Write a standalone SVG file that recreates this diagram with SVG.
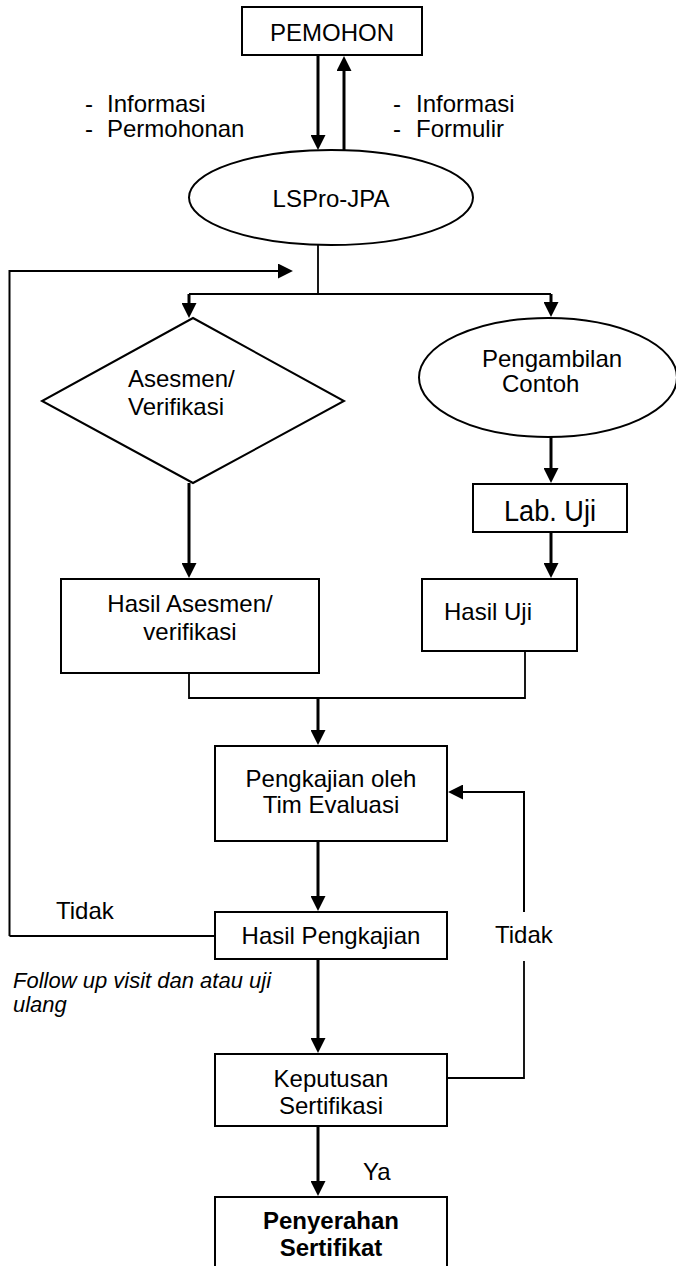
<svg xmlns="http://www.w3.org/2000/svg" width="676" height="1266" viewBox="0 0 676 1266">
<style>
  .box{fill:#fff;stroke:#000;stroke-width:2}
  .t{font-family:"Liberation Sans",Arial,sans-serif;font-size:24px;fill:#000}
  .c{text-anchor:middle}
  .b{font-weight:bold}
  .i{font-style:italic;font-size:22px}
  .arr{fill:none;stroke:#000;stroke-width:3;marker-end:url(#ah)}
  .ln{fill:none;stroke:#000;stroke-width:1.8}
  .ln2{fill:none;stroke:#000;stroke-width:2;marker-end:url(#ah)}
</style>
<defs>
  <marker id="ah" viewBox="0 0 10 10" markerUnits="userSpaceOnUse" markerWidth="15" markerHeight="15" refX="6.7" refY="5" orient="auto">
    <path d="M0,0 L10,5 L0,10 z" fill="#000"/>
  </marker>
</defs>
<rect width="676" height="1266" fill="#fff"/>

<g id="connectors">
  <line class="arr" x1="318" y1="55" x2="318" y2="145"/>
  <line class="arr" x1="344" y1="152" x2="344" y2="61"/>
  <path class="ln" d="M318 245 V294 M189 294 H551"/>
  <line class="arr" x1="189" y1="294" x2="189" y2="313"/>
  <line class="arr" x1="551" y1="294" x2="551" y2="312"/>
  <path class="ln2" d="M9.5 936 V271 H288"/>
  <line class="ln" x1="9.5" y1="936" x2="215" y2="936"/>
  <line class="arr" x1="189" y1="483" x2="189" y2="573"/>
  <line class="arr" x1="551" y1="437" x2="551" y2="478"/>
  <line class="arr" x1="551" y1="532" x2="551" y2="573"/>
  <path class="ln" d="M189 673 V698 H525 V651"/>
  <line class="arr" x1="318" y1="698" x2="318" y2="740"/>
  <path class="ln" d="M447 1078 H524 V961"/>
  <path class="ln2" d="M524 912 V792 H453"/>
  <line class="arr" x1="318" y1="841" x2="318" y2="906"/>
  <line class="arr" x1="318" y1="959" x2="318" y2="1048"/>
  <line class="arr" x1="318" y1="1126" x2="318" y2="1191"/>
</g>

<g id="labels">
  <text class="t" x="85" y="112">-</text>
  <text class="t" x="107" y="112">Informasi</text>
  <text class="t" x="85" y="137">-</text>
  <text class="t" x="107" y="137">Permohonan</text>
  <text class="t" x="393" y="112">-</text>
  <text class="t" x="416" y="112">Informasi</text>
  <text class="t" x="393" y="137">-</text>
  <text class="t" x="416" y="137">Formulir</text>
  <text class="t" x="56" y="919">Tidak</text>
  <text class="t" x="495" y="943">Tidak</text>
  <text class="t i" x="13" y="988">Follow up visit dan atau uji</text>
  <text class="t i" x="13" y="1012">ulang</text>
  <text class="t" x="363" y="1180">Ya</text>
</g>

<g id="pemohon">
  <rect class="box" x="242" y="7" width="180" height="48"/>
  <text class="t c" x="332" y="41">PEMOHON</text>
</g>

<g id="lspro">
  <ellipse class="box" cx="331" cy="197.5" rx="142" ry="47.5"/>
  <text class="t c" x="331" y="207">LSPro-JPA</text>
</g>

<g id="asesmen">
  <polygon class="box" points="193,318 344,401 193,483 42,401"/>
  <text class="t" x="128" y="387">Asesmen/</text>
  <text class="t" x="128" y="415">Verifikasi</text>
</g>

<g id="pengambilan">
  <ellipse class="box" cx="548" cy="377.5" rx="129" ry="59.5"/>
  <text class="t" x="482" y="367">Pengambilan</text>
  <text class="t" x="502" y="392">Contoh</text>
</g>

<g id="labuji">
  <rect class="box" x="473" y="484" width="154" height="48"/>
  <text class="t" x="504" y="521" style="font-size:29px" textLength="92" lengthAdjust="spacingAndGlyphs">Lab. Uji</text>
</g>

<g id="hasil-asesmen">
  <rect class="box" x="61" y="579" width="258" height="94"/>
  <text class="t c" x="190" y="612">Hasil Asesmen/</text>
  <text class="t c" x="190" y="640">verifikasi</text>
</g>

<g id="hasil-uji">
  <rect class="box" x="422" y="579" width="155" height="72"/>
  <text class="t" x="444" y="620">Hasil Uji</text>
</g>

<g id="pengkajian">
  <rect class="box" x="215" y="746" width="232" height="95"/>
  <text class="t c" x="331" y="787">Pengkajian oleh</text>
  <text class="t c" x="331" y="813">Tim Evaluasi</text>
</g>

<g id="hasil-pengkajian">
  <rect class="box" x="215" y="912" width="232" height="47"/>
  <text class="t c" x="331" y="944">Hasil Pengkajian</text>
</g>

<g id="keputusan">
  <rect class="box" x="215" y="1054" width="232" height="72"/>
  <text class="t c" x="331" y="1087">Keputusan</text>
  <text class="t c" x="331" y="1114">Sertifikasi</text>
</g>

<g id="penyerahan">
  <rect class="box" x="215" y="1197" width="232" height="80"/>
  <text class="t c b" x="331" y="1229">Penyerahan</text>
  <text class="t c b" x="331" y="1256">Sertifikat</text>
</g>
</svg>
